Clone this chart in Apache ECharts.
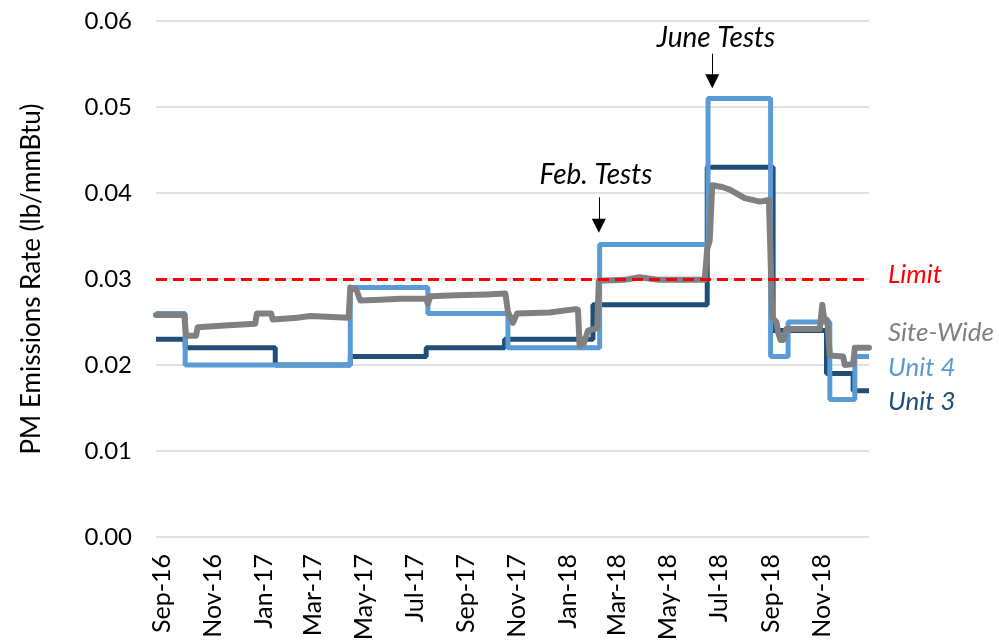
<!DOCTYPE html>
<html>
<head>
<meta charset="utf-8">
<script src="https://cdn.jsdelivr.net/npm/echarts@6/dist/echarts.min.js"></script>
<style>html,body{margin:0;padding:0;background:#fff;}#c{width:999px;height:644px;}</style>
</head>
<body>
<div id="c"></div>
<script>
// ---- data ----
const xTickDates = ['2016-09-01','2016-11-01','2017-01-01','2017-03-01','2017-05-01','2017-07-01','2017-09-01','2017-11-01','2018-01-01','2018-03-01','2018-05-01','2018-07-01','2018-09-01','2018-11-01'];
const xTickLabels = ['Sep-16','Nov-16','Jan-17','Mar-17','May-17','Jul-17','Sep-17','Nov-17','Jan-18','Mar-18','May-18','Jul-18','Sep-18','Nov-18'];
const yTicks = [0, 0.01, 0.02, 0.03, 0.04, 0.05, 0.06];
const limitValue = 0.03;

// step series: [date the value starts, value]
const unit4 = [
  ['2016-08-25', 0.026], ['2016-09-29', 0.020], ['2017-04-15', 0.029], ['2017-07-17', 0.026],
  ['2017-10-21', 0.022], ['2018-02-08', 0.034], ['2018-06-18', 0.051], ['2018-09-01', 0.021],
  ['2018-09-22', 0.025], ['2018-11-11', 0.016], ['2018-12-11', 0.021], ['2018-12-28', 0.021]
];
const unit3 = [
  ['2016-08-25', 0.023], ['2016-09-29', 0.022], ['2017-01-15', 0.020], ['2017-04-15', 0.021],
  ['2017-07-15', 0.022], ['2017-10-17', 0.023], ['2018-01-31', 0.027], ['2018-06-17', 0.043],
  ['2018-09-04', 0.024], ['2018-11-07', 0.019], ['2018-12-09', 0.017], ['2018-12-28', 0.017]
];
const siteWide = [
  ['2016-08-25', 0.0258], ['2016-09-28', 0.0258], ['2016-09-30', 0.0234], ['2016-10-12', 0.0234],
  ['2016-10-14', 0.0244], ['2016-11-15', 0.0246], ['2016-12-22', 0.0248], ['2016-12-24', 0.0260],
  ['2017-01-10', 0.0260], ['2017-01-12', 0.0253], ['2017-02-10', 0.0255], ['2017-02-26', 0.0257],
  ['2017-04-13', 0.0255], ['2017-04-15', 0.0290], ['2017-04-22', 0.0288], ['2017-04-27', 0.0275],
  ['2017-05-21', 0.0276], ['2017-06-14', 0.0277], ['2017-07-15', 0.0277], ['2017-07-17', 0.0271],
  ['2017-07-20', 0.0280], ['2017-08-20', 0.0281], ['2017-09-25', 0.0282], ['2017-10-18', 0.0283],
  ['2017-10-21', 0.0262], ['2017-10-27', 0.0249], ['2017-11-01', 0.0260], ['2017-12-10', 0.0261],
  ['2018-01-10', 0.0265], ['2018-01-13', 0.0264], ['2018-01-15', 0.0222], ['2018-01-20', 0.0225],
  ['2018-01-25', 0.0240], ['2018-02-05', 0.0243], ['2018-02-07', 0.0298], ['2018-03-10', 0.0299],
  ['2018-03-28', 0.0302], ['2018-04-20', 0.0299], ['2018-06-14', 0.0299], ['2018-06-17', 0.0335],
  ['2018-06-20', 0.0345], ['2018-06-23', 0.0409], ['2018-07-05', 0.0407], ['2018-07-14', 0.0404],
  ['2018-08-01', 0.0394], ['2018-08-19', 0.0390], ['2018-08-30', 0.0392], ['2018-09-03', 0.0255],
  ['2018-09-08', 0.0250], ['2018-09-10', 0.0238], ['2018-09-13', 0.0229], ['2018-09-16', 0.0229],
  ['2018-09-20', 0.0242], ['2018-10-30', 0.0242], ['2018-11-02', 0.0270], ['2018-11-04', 0.0255],
  ['2018-11-08', 0.0252], ['2018-11-11', 0.0211], ['2018-11-27', 0.0210], ['2018-11-29', 0.0200],
  ['2018-12-09', 0.0201], ['2018-12-11', 0.0220], ['2018-12-28', 0.0220]
];
const xMin = '2016-08-25';
const xMax = '2018-12-28';
// annotation arrows: [date, fromValue, toValue]
const febArrow = ['2018-02-07', 0.0395, 0.0362];
const juneArrow = ['2018-06-23', 0.0562, 0.0530];

// ---- chart ----
const t = s => new Date(s + 'T00:00:00').getTime();
const toSeries = arr => arr.map(d => [t(d[0]), d[1]]);
const tickVals = xTickDates.map(t);
const FONT = 'Lato, "Open Sans", sans-serif';

const chart = echarts.init(document.getElementById('c'), null, {renderer: 'canvas'});
chart.setOption({
  animation: false,
  backgroundColor: '#fff',
  grid: {left: 156, right: 130, top: 21, bottom: 107, outerBoundsMode: 'none'},
  xAxis: {
    type: 'value',
    min: t(xMin), max: t(xMax),
    axisLine: {show: false},
    axisTick: {show: false},
    splitLine: {show: false},
    axisLabel: {
      customValues: tickVals,
      rotate: 90,
      margin: 17,
      fontSize: 25,
      fontFamily: FONT,
      color: '#000',
      formatter: v => { const i = tickVals.indexOf(+v); return i >= 0 ? xTickLabels[i] : ''; }
    }
  },
  yAxis: {
    type: 'value',
    min: yTicks[0], max: yTicks[yTicks.length - 1], interval: 0.01,
    name: 'PM Emissions Rate (lb/mmBtu)',
    nameLocation: 'middle',
    nameGap: 111,
    nameTextStyle: {fontSize: 26, fontFamily: FONT, color: '#000'},
    axisLine: {show: false},
    axisTick: {show: false},
    splitLine: {lineStyle: {color: '#D9D9D9', width: 1.5}},
    axisLabel: {fontSize: 24, fontFamily: FONT, color: '#000', margin: 24, formatter: v => v.toFixed(2)}
  },
  series: [
    {
      name: 'Limit', type: 'line', data: [], silent: true,
      markLine: {
        silent: true, symbol: 'none', label: {show: false},
        lineStyle: {color: '#FF0000', type: [11, 6], width: 3},
        data: [{yAxis: limitValue}]
      }
    },
    {
      name: 'Unit 3', type: 'line', step: 'end', showSymbol: false,
      data: toSeries(unit3),
      lineStyle: {color: '#1F4E79', width: 5}, itemStyle: {color: '#1F4E79'}
    },
    {
      name: 'Unit 4', type: 'line', step: 'end', showSymbol: false,
      data: toSeries(unit4),
      lineStyle: {color: '#5B9BD5', width: 5}, itemStyle: {color: '#5B9BD5'}
    },
    {
      name: 'Site-Wide', type: 'line', showSymbol: false,
      data: toSeries(siteWide),
      lineStyle: {color: '#808080', width: 6, join: 'round', cap: 'round'}, itemStyle: {color: '#808080'},
      markLine: {
        silent: true, symbol: ['none', 'triangle'], symbolSize: [14, 14],
        label: {show: false},
        lineStyle: {color: '#000', type: 'solid', width: 1},
        data: [
          [{coord: [t(febArrow[0]), febArrow[1]]}, {coord: [t(febArrow[0]), febArrow[2]]}],
          [{coord: [t(juneArrow[0]), juneArrow[1]]}, {coord: [t(juneArrow[0]), juneArrow[2]]}]
        ]
      }
    }
  ],
  graphic: [
    {type: 'text', x: 716, y: 38, style: {text: 'June Tests', font: 'italic 28px ' + FONT, fill: '#000', align: 'center', verticalAlign: 'middle'}},
    {type: 'text', x: 596, y: 175, style: {text: 'Feb. Tests', font: 'italic 28px ' + FONT, fill: '#000', align: 'center', verticalAlign: 'middle'}},
    {type: 'text', x: 888, y: 275, style: {text: 'Limit', font: 'italic 26px ' + FONT, fill: '#FF0000', verticalAlign: 'middle'}},
    {type: 'text', x: 888, y: 333, style: {text: 'Site-Wide', font: 'italic 26px ' + FONT, fill: '#808080', verticalAlign: 'middle'}},
    {type: 'text', x: 888, y: 368, style: {text: 'Unit 4', font: 'italic 26px ' + FONT, fill: '#5B9BD5', verticalAlign: 'middle'}},
    {type: 'text', x: 888, y: 402, style: {text: 'Unit 3', font: 'italic 26px ' + FONT, fill: '#1F4E79', verticalAlign: 'middle'}}
  ]
});
</script>
</body>
</html>
